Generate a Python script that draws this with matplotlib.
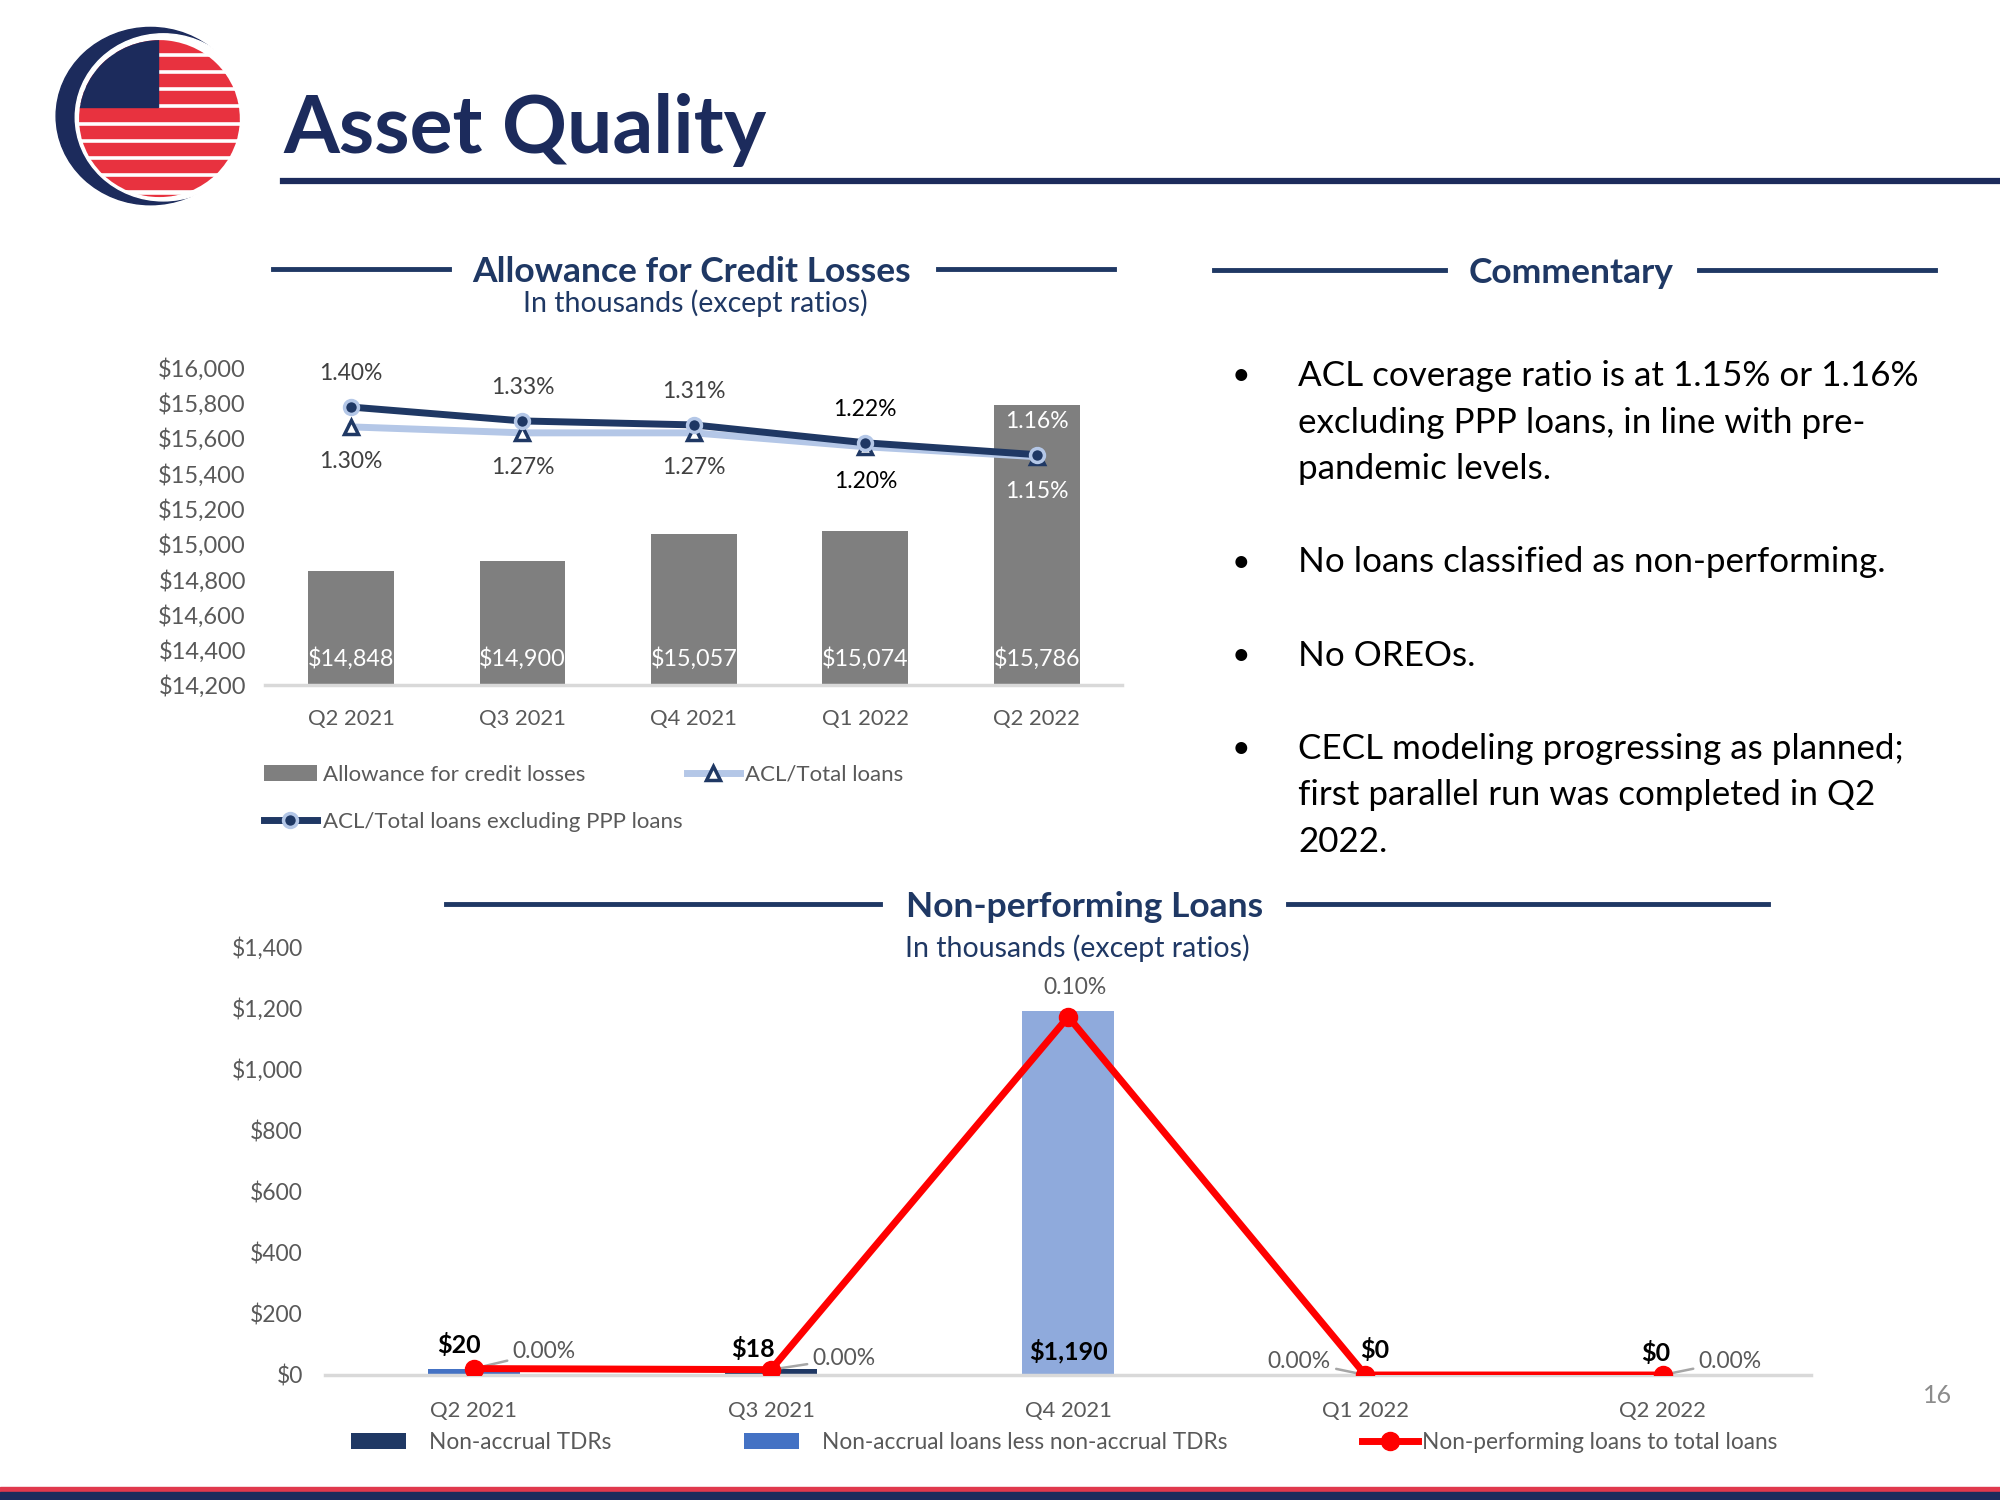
import matplotlib
matplotlib.use("Agg")
import matplotlib.pyplot as plt
from matplotlib.patches import Ellipse, Rectangle, Patch
from matplotlib.lines import Line2D
import numpy as np

plt.rcParams['font.family'] = ['Lato', 'DejaVu Sans']

# ---------------- data ----------------
quarters = ["Q2 2021", "Q3 2021", "Q4 2021", "Q1 2022", "Q2 2022"]
acl_values = [14848, 14900, 15057, 15074, 15786]
acl_ratio = [1.30, 1.27, 1.27, 1.20, 1.15]
acl_ratio_ex_ppp = [1.40, 1.33, 1.31, 1.22, 1.16]
acl_ticks = [14200, 14400, 14600, 14800, 15000, 15200, 15400, 15600, 15800, 16000]

nonaccrual_tdr = [0, 18, 0, 0, 0]
nonaccrual_less_tdr = [20, 0, 1190, 0, 0]
npl_ratio = [0.0018, 0.0015, 0.1003, 0.0, 0.0]
npl_ratio_labels = ["0.00%", "0.00%", "0.10%", "0.00%", "0.00%"]
npl_ticks = [0, 200, 400, 600, 800, 1000, 1200, 1400]

bullets = [
    ["ACL coverage ratio is at 1.15% or 1.16%",
     "excluding PPP loans, in line with pre-",
     "pandemic levels."],
    ["No loans classified as non-performing."],
    ["No OREOs."],
    ["CECL modeling progressing as planned;",
     "first parallel run was completed in Q2",
     "2022."],
]

# ---------------- styling ----------------
NAVY = '#1C2B5C'
NAVY2 = '#1F3864'
LIGHTBLUE = '#B4C7E7'
GRAY_TXT = '#595959'
W, H = 1568, 1176


def fx(x):
    return x / W


def fy(y):
    return 1 - y / H


fig = plt.figure(figsize=(20, 15), dpi=100)
fig.patch.set_facecolor('white')

# ---------------- logo ----------------
lax = fig.add_axes([fx(30), fy(175), 180 / W, 165 / H])
lax.set_xlim(30, 210)
lax.set_ylim(175, 10)
lax.axis('off')
lax.add_patch(Ellipse((118, 91), 148, 139, color=NAVY))
lax.add_patch(Ellipse((128, 92), 138, 131, color='white'))
sphere = Ellipse((125, 93), 126, 123, facecolor='white', edgecolor='none')
lax.add_patch(sphere)
yy = 31
while yy < 156:
    r = Rectangle((55, yy), 140, 9.5, color='#E8323F')
    lax.add_patch(r)
    r.set_clip_path(sphere)
    yy += 13.5
canton = Rectangle((55, 25), 69, 59, color=NAVY)
lax.add_patch(canton)
canton.set_clip_path(sphere)

# ---------------- title ----------------
fig.text(fx(222), fy(120), "Asset Quality", fontsize=58, fontweight='bold',
         color=NAVY, va='baseline', ha='left')
fig.add_artist(Line2D([fx(222), 1.0], [fy(142), fy(142)], color=NAVY, lw=4.5))


def section_header(cx, cy, text, l1, l2):
    fig.text(fx(cx), fy(cy), text, fontsize=25.5, fontweight='bold', color=NAVY2,
             ha='center', va='center')
    fig.add_artist(Line2D([fx(l1[0]), fx(l1[1])], [fy(cy - 2)] * 2, color=NAVY2, lw=3.5))
    fig.add_artist(Line2D([fx(l2[0]), fx(l2[1])], [fy(cy - 2)] * 2, color=NAVY2, lw=3.5))


section_header(542, 213, "Allowance for Credit Losses", (214, 352), (735, 873))
fig.text(fx(545), fy(238), "In thousands (except ratios)", fontsize=20.5, color=NAVY2,
         ha='center', va='center')
section_header(1232, 214, "Commentary", (952, 1133), (1332, 1517))
section_header(850, 711, "Non-performing Loans", (350, 690), (1010, 1386))
fig.text(fx(845), fy(743), "In thousands (except ratios)", fontsize=20.5, color=NAVY2,
         ha='center', va='center')

# ---------------- commentary ----------------
bullet_y = [295, 441, 514, 587]
for b, y0 in zip(bullets, bullet_y):
    fig.text(fx(973), fy(y0), "\u2022", fontsize=23, color='black', ha='center', va='center')
    for k, line in enumerate(b):
        fig.text(fx(1018), fy(y0 + 36.5 * k), line, fontsize=25.2, color='black',
                 ha='left', va='center')

# ---------------- top chart ----------------
x = np.arange(len(quarters))
ax1 = fig.add_axes([fx(208), fy(537), (880 - 208) / W, (537 - 288) / H])
ax1.bar(x, acl_values, width=0.5, color='#7F7F7F', zorder=2)
ax1.set_ylim(acl_ticks[0], acl_ticks[-1])
ax1.set_xlim(-0.5, len(quarters) - 0.5)
ax1.set_yticks(acl_ticks)
ax1.set_yticklabels([f"${v:,}" for v in acl_ticks])
ax1.set_xticks(x)
ax1.set_xticklabels(quarters)
for s in ['top', 'right', 'left']:
    ax1.spines[s].set_visible(False)
ax1.spines['bottom'].set_color('#D9D9D9')
ax1.spines['bottom'].set_linewidth(2.5)
ax1.tick_params(axis='both', length=0, colors=GRAY_TXT)
ax1.tick_params(axis='y', pad=14, labelsize=17)
ax1.tick_params(axis='x', pad=17, labelsize=15.8)
for i, v in enumerate(acl_values):
    ax1.annotate(f"${v:,}", xy=(i, acl_ticks[0]), xytext=(0, 19), textcoords='offset points',
                 ha='center', va='center', color='white', fontsize=16.8, zorder=5)

ax1b = ax1.twinx()
ax1b.set_ylim(0, 1.6)
ax1b.axis('off')
l_tot, = ax1b.plot(x, acl_ratio, color=LIGHTBLUE, lw=5, marker='^', markersize=10,
                   markerfacecolor='white', markeredgecolor=NAVY2, markeredgewidth=2.5, zorder=3)
l_ex, = ax1b.plot(x, acl_ratio_ex_ppp, color=NAVY2, lw=5, marker='o', markersize=10,
                  markerfacecolor=NAVY2, markeredgecolor=LIGHTBLUE, markeredgewidth=2.5, zorder=4)
lab_cols = ['#404040', '#404040', '#404040', 'black', 'white']
for i in range(len(quarters)):
    ax1b.annotate(f"{acl_ratio_ex_ppp[i]:.2f}%", xy=(i, acl_ratio_ex_ppp[i]), xytext=(0, 24),
                  textcoords='offset points', ha='center', va='center', fontsize=16.5,
                  color=lab_cols[i])
    ax1b.annotate(f"{acl_ratio[i]:.2f}%", xy=(i, acl_ratio[i]), xytext=(0, -25),
                  textcoords='offset points', ha='center', va='center', fontsize=16.5,
                  color=lab_cols[i])

h_bar = Patch(facecolor='#7F7F7F')
fig.legend([h_bar, l_ex, l_tot],
           ["Allowance for credit losses", "ACL/Total loans excluding PPP loans", "ACL/Total loans"],
           loc='upper left', bbox_to_anchor=(fx(191), fy(584)), ncol=2, frameon=False,
           fontsize=16, labelcolor=GRAY_TXT, handlelength=2.4, handletextpad=0.25,
           columnspacing=0.2, labelspacing=1.2)

# ---------------- bottom chart ----------------
ax2 = fig.add_axes([fx(255), fy(1078), (1420 - 255) / W, (1078 - 742) / H])
less_cols = ['#4472C4', '#4472C4', '#8FAADC', '#4472C4', '#4472C4']
ax2.bar(x, nonaccrual_tdr, width=0.31, color=NAVY2, zorder=2)
ax2.bar(x, nonaccrual_less_tdr, bottom=nonaccrual_tdr, width=0.31, color=less_cols, zorder=2)
ax2.set_ylim(npl_ticks[0], npl_ticks[-1])
ax2.set_xlim(-0.5, len(quarters) - 0.5)
ax2.set_yticks(npl_ticks)
ax2.set_yticklabels([f"${v:,}" for v in npl_ticks])
ax2.set_xticks(x)
ax2.set_xticklabels(quarters)
for s in ['top', 'right', 'left']:
    ax2.spines[s].set_visible(False)
ax2.spines['bottom'].set_color('#D9D9D9')
ax2.spines['bottom'].set_linewidth(2.5)
ax2.tick_params(axis='both', length=0, colors=GRAY_TXT)
ax2.tick_params(axis='y', pad=16, labelsize=16.5)
ax2.tick_params(axis='x', pad=19, labelsize=15.8)

ax2b = ax2.twinx()
ax2b.set_ylim(0, 0.12)
ax2b.axis('off')
l_npl, = ax2b.plot(x, npl_ratio, color='#FF0000', lw=5, marker='o', markersize=13,
                   markerfacecolor='#FF0000', markeredgecolor='#FF0000', zorder=4)

totals = [a + b for a, b in zip(nonaccrual_tdr, nonaccrual_less_tdr)]
amt_offsets = [(-11, 17), (-13, 15), (0, 17), (7, 18), (-5, 16)]
for i, t in enumerate(totals):
    ref_y = 0 if t > 200 else t
    ax2.annotate(f"${t:,}", xy=(i, ref_y), xytext=amt_offsets[i], textcoords='offset points',
                 ha='center', va='center', fontsize=18, fontweight='bold', color='black',
                 zorder=6, annotation_clip=False)

pct_offsets = [(28, 12), (30, 8), (5, 21), (-25, 10), (26, 10)]
pct_ha = ['left', 'left', 'center', 'right', 'left']
for i, lab in enumerate(npl_ratio_labels):
    leader = None
    if i != 2:
        leader = dict(arrowstyle='-', color='#A6A6A6', lw=1.8, shrinkA=2, shrinkB=4)
    ax2b.annotate(lab, xy=(i, npl_ratio[i]), xytext=pct_offsets[i], textcoords='offset points',
                  ha=pct_ha[i], va='center', fontsize=16.5, color=GRAY_TXT,
                  arrowprops=leader, annotation_clip=False)

leg_items = [
    (Patch(facecolor=NAVY2), "Non-accrual TDRs", 275, 1.0),
    (Patch(facecolor='#4472C4'), "Non-accrual loans less non-accrual TDRs", 583, 1.0),
    (l_npl, "Non-performing loans to total loans", 1068, 0.2),
]
for hnd, lab, x0, pad in leg_items:
    fig.legend([hnd], [lab], loc='center left', bbox_to_anchor=(fx(x0), fy(1131)),
               frameon=False, fontsize=16.3, labelcolor=GRAY_TXT, handlelength=2.45,
               handletextpad=pad, borderpad=0, borderaxespad=0)

# ---------------- page footer ----------------
fig.text(fx(1519), fy(1094), "16", fontsize=18, color='#8C8C8C', ha='center', va='center')
fig.add_artist(Rectangle((0, fy(1170)), 1, 4 / H, transform=fig.transFigure,
                         color='#E0394D', zorder=10))
fig.add_artist(Rectangle((0, 0), 1, fy(1170), transform=fig.transFigure,
                         color=NAVY, zorder=10))

fig.savefig("out.png", dpi=100)
